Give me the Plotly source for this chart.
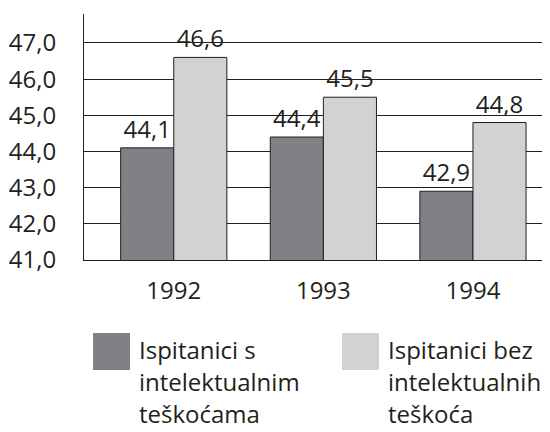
import plotly.graph_objects as go

years = ["1992", "1993", "1994"]
with_diff = [44.1, 44.4, 42.9]
without_diff = [46.6, 45.5, 44.8]
series_names = [["Ispitanici s", "intelektualnim", "teškoćama"],
                ["Ispitanici bez", "intelektualnih", "teškoća"]]
y_ticks = [41, 42, 43, 44, 45, 46, 47]

DARK = "#808184"
LIGHT = "#d1d2d4"
INK = "#231f20"
FONT = "Open Sans"

# page body has an 8px default margin; positions below are in screen pixels
OFF = 8
W, H = 550, 432
L, R, T, B = 84 - OFF, OFF, 14 - OFF, H - (260 - OFF)
PW, PH = W - L - R, H - T - B

def px(x):
    return (x - OFF - L) / PW

def py(y):
    return (H - B - (y - OFF)) / PH

xs = list(range(len(years)))

def fmt(v):
    return f"{v:.1f}".replace(".", ",")

fig = go.Figure()
for vals, col in [(with_diff, DARK), (without_diff, LIGHT)]:
    fig.add_trace(go.Bar(
        x=xs, y=vals, marker=dict(color=col, line=dict(color=INK, width=1)),
        text=[fmt(v) for v in vals], textposition="outside",
        textfont=dict(size=24, color=INK, family=FONT),
        cliponaxis=False, showlegend=False,
    ))

fig.update_layout(
    width=W, height=H, barmode="group", bargap=0.29, bargroupgap=0.0,
    margin=dict(l=L, r=R, t=T, b=B, autoexpand=False),
    plot_bgcolor="white", paper_bgcolor="white",
    font=dict(family=FONT, color=INK),
    separators=", ",
    xaxis=dict(range=[-0.6, 2.515], tickvals=xs, ticktext=years, showgrid=False,
               zeroline=False, showline=True, linecolor=INK, linewidth=1,
               automargin=False,
               tickfont=dict(size=24, color=INK), ticks="", ticklabelstandoff=9),
    yaxis=dict(range=[41, 47.8], tickvals=y_ticks, tickformat=".1f",
               showgrid=True, gridcolor=INK, gridwidth=1, zeroline=False,
               showline=True, linecolor=INK, linewidth=1, automargin=False,
               tickfont=dict(size=24, color=INK), ticks="", ticklabelstandoff=22),
)

# custom legend
sq = [(93, 333), (342, 333)]
tx = [139, 388]
for i, (cols, names) in enumerate(zip([DARK, LIGHT], series_names)):
    x0, y0 = sq[i]
    fig.add_shape(type="rect", xref="paper", yref="paper",
                  x0=px(x0), x1=px(x0 + 37), y0=py(y0), y1=py(y0 + 37),
                  fillcolor=cols, line=dict(width=0))
    for j, line in enumerate(names):
        fig.add_annotation(text=line, xref="paper", yref="paper",
                           x=px(tx[i] - 2), y=py(349 + 32 * j), xanchor="left", yanchor="middle",
                           showarrow=False, font=dict(size=24, color=INK, family=FONT))

fig.write_html("out.html")
